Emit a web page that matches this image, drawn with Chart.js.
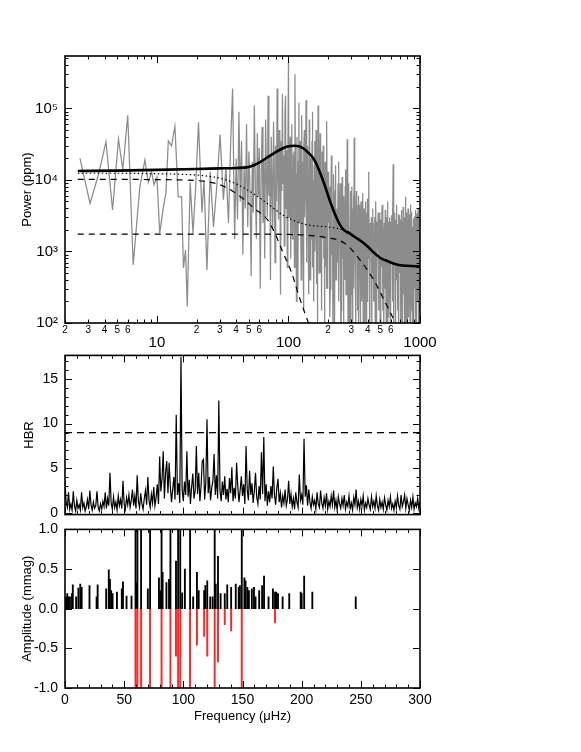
<!DOCTYPE html>
<html>
<head>
<meta charset="utf-8">
<script src="https://cdn.jsdelivr.net/npm/chart.js@4.4.0/dist/chart.umd.min.js"></script>
<style>
  html, body { margin: 0; padding: 0; background: #fff; }
  body { width: 581px; height: 752px; position: relative; overflow: hidden; }
  canvas { position: absolute; left: 0; }
  #powerChart { top: 0; }
  #hbrChart { top: 340px; }
  #ampChart { top: 514px; }
</style>
</head>
<body>
<canvas id="powerChart" width="581" height="360"></canvas>
<canvas id="hbrChart" width="581" height="190"></canvas>
<canvas id="ampChart" width="581" height="238"></canvas>
<script>
// ---------- Panel 1: power spectrum (log-log) ----------
const specFreq = [
  2.6, 3.1, 3.6, 4.1, 4.6, 5.1, 5.5, 6.0, 6.6, 7.4, 8.1, 8.6, 9.1, 9.5, 10.0, 10.5, 11.2, 11.7, 12.2, 12.9,
  13.7, 14.5, 15.4, 15.9, 16.5, 17.0, 17.9, 18.8, 19.7, 20.7, 22.0, 22.8, 24.0, 25.4, 26.9, 28.5, 30.2, 32.0, 33.5, 35.0,
  36.3, 37.6, 39.0,
  40, 41, 42, 43, 44, 45, 46, 47, 48, 49, 50, 51, 52, 53, 54, 55, 56, 57, 58, 59,
  60, 61, 62, 63, 64, 65, 66, 67, 68, 69, 70, 71, 72, 73, 74, 75, 76, 77, 78, 79,
  80, 81, 82, 83, 84, 85, 86, 87, 88, 89, 90, 91, 92, 93, 94, 95, 96, 97, 98, 99,
  100, 101, 102, 103, 104, 105, 106, 107, 108, 109, 110, 111, 112, 113, 114, 115, 116, 117, 118, 119,
  120, 121, 122, 123, 124, 125, 126, 127, 128, 129, 130, 131, 132, 133, 134, 135, 136, 137, 138, 139,
  140, 141, 142, 143, 144, 145, 146, 147, 148, 149, 150, 151, 152, 153, 154, 155, 156, 157, 158, 159,
  160, 161, 162, 163, 164, 165, 166, 167, 168, 169, 170, 171, 172, 173, 174, 175, 176, 177, 178, 179,
  180, 181, 182, 183, 184, 185, 186, 187, 188, 189, 190, 191, 192, 193, 194, 195, 196, 197, 198, 199, 200,
  202, 204, 206, 208, 210, 212, 214, 216, 218, 220, 222, 224, 226, 228, 230, 232, 234, 236, 238, 240,
  242, 244, 246, 248, 250, 252, 254, 256, 258, 260, 262, 264, 266, 268, 270, 272, 274, 276, 278, 280,
  282, 284, 286, 288, 290, 292, 294, 296, 298, 300, 302, 304, 306, 308, 310, 312, 314, 316, 318, 320,
  322, 324, 326, 328, 330, 332, 334, 336, 338, 340, 342, 344, 346, 348, 350, 352, 354, 356, 358, 360,
  362, 364, 366, 368, 370, 372, 374, 376, 378, 380, 382, 384, 386, 388, 390, 392, 394, 396, 398, 400,
  403, 406, 409, 412, 415, 418, 421, 424, 427, 430, 433, 436, 439, 442, 445, 448, 451, 454, 457, 460,
  463, 466, 469, 472, 475, 478, 481, 484, 487, 490, 493, 496, 499, 502, 505, 508, 511, 514, 517, 520,
  523, 526, 529, 532, 535, 538, 541, 544, 547, 550, 553, 556, 559, 562, 565, 568, 571, 574, 577, 580,
  583, 586, 589, 592, 595, 598, 601, 604, 607, 610, 613, 616, 619, 622, 625, 628, 631, 634, 637, 640,
  643, 646, 649, 652, 655, 658, 661, 664, 667, 670, 673, 676, 679, 682, 685, 688, 691, 694, 697, 700,
  703, 706, 709, 712, 715, 718, 721, 724, 727, 730, 733, 736, 739, 742, 745, 748, 751, 754, 757, 760,
  763, 766, 769, 772, 775, 778, 781, 784, 787, 790, 793, 796, 799, 802, 805, 808, 811, 814, 817, 820,
  823, 826, 829, 832, 835, 838, 841, 844, 847, 850, 853, 856, 859, 862, 865, 868, 871, 874, 877, 880,
  883, 886, 889, 892, 895, 898, 901, 904, 907, 910, 913, 916, 919, 922, 925, 928, 931, 934, 937, 940,
  943, 946, 949, 952, 955, 958, 961, 964, 967, 970, 973, 976, 979, 982, 985, 988, 991, 994, 997, 1000
];
const specPower = [
  20000, 4700, 12000, 34000, 3800, 37000, 14000, 80000, 650, 7800, 19000, 9200, 13000, 8600, 11000, 1800, 4200, 6500, 35000, 30000,
  56000, 5800, 5800, 590, 1050, 170, 9200, 1800, 8000, 64000, 3500, 10000, 550, 13000, 2200, 8000, 43000, 5300, 15000, 2500,
  30000, 190000, 1500,
  20000, 2800, 90000, 5000, 35000, 900, 16000, 4000, 60000, 2200, 25000, 7000, 450, 18000, 3500, 110000, 8000, 1500, 45000, 6000,
  28000, 300, 12000, 55000, 2500, 19000, 800, 70000, 10000, 3000, 150000, 6000, 22000, 400, 40000, 9000, 2000, 65000, 14000, 700,
  30000, 5000, 190000, 11000, 2800, 50000, 18000, 250, 35000, 7000, 160000, 9000, 22000, 1200, 80000, 150000, 4000, 26000, 600, 20000,
  450000, 3000, 15000, 40000, 800, 9000, 60000, 1500, 3500, 22000, 25000, 600, 300000, 12000, 6000, 200, 40000, 8000, 300, 18000,
  120000, 2500, 10000, 35000, 2000, 400, 80000, 5000, 18000, 900, 150, 25000, 50000, 3000, 6000, 15000, 130000, 700, 1200, 9000,
  30000, 2000, 9000, 250, 70000, 12000, 400, 4000, 20000, 1500, 4500, 35000, 90000, 600, 10000, 3000, 200, 16000, 35000, 1000,
  2500, 8000, 50000, 350, 7000, 20000, 90, 4000, 110000, 1800, 28000, 500, 3000, 14000, 45000, 1200, 500, 6000, 12000, 150,
  25000, 3500, 1500, 9000, 30000, 800, 5000, 12000, 70, 2500, 18000, 600, 2000, 7000, 22000, 300, 66000, 4000, 300, 8000, 13000,
  2500, 8000, 120, 300, 5000, 22000, 900, 2000, 60, 12000, 3000, 80, 7000, 16000, 400, 4000, 1500, 700, 9000, 18000,
  200, 2500, 6000, 9000, 50, 150, 3500, 11000, 800, 3000, 100, 6000, 2000, 400, 8000, 14000, 250, 1500, 5000, 37000,
  600, 60, 3000, 9000, 1200, 2000, 40, 5000, 7000, 250, 1800, 8000, 90, 1000, 4000, 6000, 300, 39000, 2500, 1800,
  500, 80, 3000, 7000, 900, 2500, 150, 500, 4500, 6000, 60, 1200, 3000, 4500, 700, 90, 2000, 5000, 1400, 2000,
  200, 350, 3500, 6500, 100, 1400, 2500, 4000, 500, 70, 3000, 5000, 1100, 900, 50, 3500, 1800, 200, 2500, 5500,
  800, 2200, 13000, 300, 60, 2500, 1200, 900, 3000, 60, 1500, 4000, 500, 1200, 200, 2500, 3000, 700, 90, 5000,
  1800, 400, 80, 2600, 1100, 1800, 3500, 150, 600, 3500, 1000, 2000, 40, 700, 2800, 1300, 600, 3600, 4500, 150,
  900, 1500, 2200, 70, 2500, 1000, 300, 3800, 1400, 800, 100, 2200, 3000, 600, 5000, 1200, 40, 1800, 2600, 120,
  1600, 3000, 900, 300, 2000, 50, 2600, 1400, 700, 3200, 1100, 200, 4000, 2000, 16600, 800, 60, 1900, 2800, 700,
  3500, 1000, 70, 1300, 2400, 2800, 400, 1500, 4500, 900, 150, 2000, 2400, 600, 3300, 60, 1100, 1500, 3200, 800,
  500, 2800, 80, 1500, 2000, 1100, 350, 3800, 900, 100, 2600, 1200, 1700, 400, 4200, 250, 1100, 1700, 3000, 500,
  2000, 80, 3000, 1300, 5800, 700, 80, 1400, 2200, 450, 3500, 1000, 40, 2000, 1600, 1000, 4000, 300, 1600, 2800,
  120, 900, 3300, 1700, 600, 2100, 70, 1300, 4500, 400, 1800, 900, 2500, 150, 1100, 3600, 500, 2000, 80, 1400,
  2200, 1300, 600, 2900, 1000, 50, 1700, 3100, 700, 1200, 300, 2400, 1500, 3800, 90, 1000, 2000, 600, 2700, 1200,
  80, 1600, 3400, 800, 1900, 200, 2300, 1100, 4000, 400, 1300, 2500, 60, 900, 3000, 1500, 700, 2200, 150, 1800
];
// full fit (thick), background (dotted), two granulation components (dashed)
const fitFreq = [2.5, 5, 10, 20, 30, 40, 50, 60, 70, 80, 90, 100, 110, 120, 130, 140, 156, 170, 186, 209, 242, 263, 290, 316, 360, 398, 450, 500, 580, 676, 800, 1000];
const fitPower = [13300, 13500, 13800, 14200, 14500, 14700, 15200, 17500, 21000, 24500, 27500, 29500, 30000, 29500, 27500, 24500, 19500, 14000, 9100, 4800, 2500, 2000, 1800, 1620, 1380, 1180, 950, 810, 720, 650, 630, 620];
const bgFreq = [2.5, 5, 10, 15, 20, 25, 30, 38, 45, 55, 69, 80, 91, 105, 123, 150, 200, 250, 290];
const bgPower = [12400, 12400, 12200, 12000, 11700, 11200, 10600, 9200, 7900, 6300, 4700, 3800, 3200, 2800, 2500, 2300, 2200, 2050, 1850];
const gran1Freq = [2.5, 5, 10, 15, 20, 25, 30, 38, 45, 55, 69, 80, 91, 105, 123, 142, 160];
const gran1Power = [10200, 10200, 10100, 10000, 9800, 9300, 8600, 6900, 5500, 4000, 2800, 1700, 960, 520, 210, 100, 60];
const gran2Freq = [2.5, 10, 50, 100, 130, 160, 200, 250, 290, 335, 390, 445, 520, 620, 700];
const gran2Power = [1750, 1750, 1750, 1730, 1700, 1650, 1550, 1400, 1150, 840, 580, 400, 230, 120, 75];

const powXLabelTicks = [2, 3, 4, 5, 6, 10, 20, 30, 40, 50, 60, 100, 200, 300, 400, 500, 600, 1000];
const powXMajor = [10, 100, 1000];
const powXMinor = [2, 3, 4, 5, 6, 7, 8, 9, 20, 30, 40, 50, 60, 70, 80, 90, 200, 300, 400, 500, 600, 700, 800, 900];
const powYMajor = [100, 1000, 10000, 100000];
const powYLabels = ['10²', '10³', '10⁴', '10⁵'];
const powYMinor = [200, 300, 400, 500, 600, 700, 800, 900, 2000, 3000, 4000, 5000, 6000, 7000, 8000, 9000,
  20000, 30000, 40000, 50000, 60000, 70000, 80000, 90000, 200000, 300000, 400000, 500000];

// ---------- Panel 2: HBR ----------
const hbrFreq = [
  0, 1, 2, 3, 4, 5, 6, 7, 8, 9, 10, 11, 12, 13, 14, 15, 16, 17, 18, 19,
  20, 21, 22, 23, 24, 25, 26, 27, 28, 29, 30, 31, 32, 33, 34, 35, 36, 37, 38, 39,
  40, 41, 42, 43, 44, 45, 46, 47, 48, 49, 50, 51, 52, 53, 54, 55, 56, 57, 58, 59,
  60, 61, 62, 63, 64, 65, 66, 67, 68, 69, 70, 71, 72, 73, 74, 75, 76, 77, 78, 79,
  80, 81, 82, 83, 84, 85, 86, 87, 88, 89, 90, 91, 92, 93, 94, 95, 96, 97, 98, 99,
  100, 101, 102, 103, 104, 105, 106, 107, 108, 109, 110, 111, 112, 113, 114, 115, 116, 117, 118, 119,
  120, 121, 122, 123, 124, 125, 126, 127, 128, 129, 130, 131, 132, 133, 134, 135, 136, 137, 138, 139,
  140, 141, 142, 143, 144, 145, 146, 147, 148, 149, 150, 151, 152, 153, 154, 155, 156, 157, 158, 159,
  160, 161, 162, 163, 164, 165, 166, 167, 168, 169, 170, 171, 172, 173, 174, 175, 176, 177, 178, 179,
  180, 181, 182, 183, 184, 185, 186, 187, 188, 189, 190, 191, 192, 193, 194, 195, 196, 197, 198, 199,
  200, 201, 202, 203, 204, 205, 206, 207, 208, 209, 210, 211, 212, 213, 214, 215, 216, 217, 218, 219,
  220, 221, 222, 223, 224, 225, 226, 227, 228, 229, 230, 231, 232, 233, 234, 235, 236, 237, 238, 239,
  240, 241, 242, 243, 244, 245, 246, 247, 248, 249, 250, 251, 252, 253, 254, 255, 256, 257, 258, 259,
  260, 261, 262, 263, 264, 265, 266, 267, 268, 269, 270, 271, 272, 273, 274, 275, 276, 277, 278, 279,
  280, 281, 282, 283, 284, 285, 286, 287, 288, 289, 290, 291, 292, 293, 294, 295, 296, 297, 298, 299,
  300
];
const hbrValue = [
  3.5, 1.2, 0.6, 2.3, 0.4, 1.0, 0.3, 2.4, 0.8, 0.2, 1.4, 0.5, 0.9, 0.3, 2.3, 0.6, 1.1, 0.2, 0.7, 1.5,
  0.4, 2.5, 0.9, 0.3, 1.2, 0.5, 0.8, 2.4, 0.6, 0.2, 1.0, 0.4, 1.3, 0.7, 2.3, 0.5, 1.6, 0.8, 4.5, 1.1,
  0.4, 1.8, 0.6, 1.2, 0.3, 1.9, 0.8, 1.5, 0.5, 3.6, 1.0, 0.4, 1.7, 0.9, 2.0, 0.6, 1.4, 2.6, 0.8, 1.9,
  0.5, 4.2, 1.3, 0.6, 2.2, 1.0, 0.4, 1.6, 2.5, 0.9, 4.0, 1.4, 0.6, 2.1, 1.1, 2.9, 0.8, 1.7, 3.2, 1.0,
  6.3, 2.4, 3.8, 6.9, 1.6, 4.5, 5.8, 2.2, 5.6, 3.0, 1.2, 2.6, 4.0, 1.5, 11.0, 2.0, 3.3, 1.1, 17.5, 2.6,
  1.3, 3.5, 2.0, 6.9, 1.8, 3.7, 1.0, 2.9, 4.4, 1.6, 2.5, 7.5, 2.1, 4.5, 1.3, 3.0, 5.8, 6.0, 1.5, 3.4,
  10.5, 2.2, 4.0, 1.4, 2.8, 3.6, 6.6, 2.0, 4.2, 1.6, 12.6, 2.5, 1.3, 3.5, 2.0, 4.1, 1.5, 2.7, 1.2, 3.9,
  2.2, 5.1, 1.3, 2.8, 1.6, 5.6, 3.0, 1.2, 2.5, 4.1, 1.9, 3.2, 1.0, 7.5, 2.6, 1.4, 4.7, 2.0, 3.3, 1.1,
  2.4, 4.5, 1.8, 1.0, 3.0, 1.5, 6.8, 2.1, 8.5, 1.3, 3.2, 0.8, 2.4, 1.2, 3.0, 1.6, 5.2, 2.0, 0.9, 2.8,
  3.8, 1.2, 2.2, 0.6, 1.9, 1.1, 2.6, 0.8, 1.5, 3.6, 1.0, 2.1, 0.7, 1.6, 0.4, 2.3, 1.2, 0.6, 4.3, 1.4,
  2.0, 0.9, 8.3, 1.8, 3.1, 0.8, 2.6, 1.2, 0.5, 1.8, 0.9, 1.4, 0.4, 2.3, 1.0, 0.6, 2.5, 1.1, 0.5, 1.7,
  0.8, 2.2, 0.4, 1.3, 0.7, 1.9, 0.9, 2.5, 0.6, 1.4, 0.3, 1.8, 1.0, 0.5, 1.6, 0.8, 2.0, 0.4, 1.2, 0.7,
  1.9, 0.5, 1.1, 0.3, 1.7, 0.9, 2.6, 0.6, 1.3, 0.4, 1.5, 0.8, 1.9, 0.3, 1.1, 0.6, 1.6, 0.9, 0.4, 1.8,
  0.7, 1.3, 0.5, 1.9, 0.8, 0.3, 1.5, 0.6, 1.2, 0.4, 1.7, 0.9, 0.3, 1.4, 0.7, 1.8, 0.5, 1.0, 0.3, 1.3,
  0.6, 1.9, 0.8, 0.4, 2.0, 0.7, 1.2, 2.0, 0.5, 1.6, 0.9, 0.3, 1.4, 0.6, 1.8, 0.4, 1.1, 0.7, 1.6, 0.5,
  1.2
];
const hbrThreshold = 9;
const hbrYMajor = [0, 5, 10, 15];
const hbrYMinor = [1, 2, 3, 4, 6, 7, 8, 9, 11, 12, 13, 14, 16, 17];

// ---------- Panel 3: amplitude spectrum (black) and fitted modes (red) ----------
const ampFreq = [
  0.9, 1.9, 3.0, 4.2, 5.9, 6.6, 9.4, 11.3, 12.9, 14.1,
  20.7, 26.7, 27.6, 34.8, 37.0, 38.0, 39.0, 40.2, 43.9, 48.0,
  49.0, 52.0, 56.2, 59.6, 60.4, 61.2, 64.3, 70.0, 71.9, 79.4,
  80.6, 81.6, 82.5, 85.7, 87.9, 89.1, 93.8, 95.6, 97.4, 99.0,
  101.3, 105.7, 108.3, 111.5, 113.0, 117.6, 118.6, 120.2, 122.7, 124.8,
  126.5, 127.4, 129.3, 131.5, 135.0, 137.1, 140.4, 144.3, 146.8, 147.8,
  149.4, 151.6, 152.6, 154.1, 155.4, 157.9, 159.7, 161.0, 164.1, 166.6,
  168.2, 172.0, 175.7, 177.5, 178.5, 180.0, 183.9, 189.5, 199.2, 200.0,
  202.1, 209.0, 245.7
];
const ampValue = [
  0.15, 0.19, 0.15, 0.15, 0.19, 0.30, 0.15, 0.26, 0.31, 0.27,
  0.29, 0.15, 0.30, 0.25, 0.49, 0.37, 0.23, 0.19, 0.21, 0.25,
  0.34, 0.16, 0.16, 1.0, 0.33, 1.0, 1.0, 0.25, 1.0, 0.39,
  0.23, 1.0, 0.46, 0.33, 0.37, 1.0, 0.60, 1.0, 1.0, 0.20,
  0.50, 1.0, 0.15, 0.46, 0.23, 0.23, 0.29, 0.35, 0.15, 0.15,
  1.0, 0.31, 0.66, 0.19, 0.19, 0.30, 0.27, 0.31, 0.27, 0.29,
  1.0, 0.39, 0.35, 0.27, 0.23, 0.25, 0.27, 0.15, 0.23, 0.29,
  0.41, 0.15, 0.25, 0.21, 0.21, 0.19, 0.15, 0.19, 0.21, 0.19,
  0.41, 0.21, 0.15
];
const modeFreq = [59.6, 61.2, 64.3, 71.9, 81.6, 89.1, 93.8, 95.6, 97.4, 105.7, 111.5, 117.6, 120.2, 126.5, 129.3, 135.0, 140.4, 149.4, 177.5];
const modeAmp = [-1, -1, -1, -1, -1, -1, -0.6, -1, -1, -1, -0.46, -0.35, -0.6, -1, -0.67, -0.2, -0.28, -1, -0.18];
const ampYMajor = [-1, -0.5, 0, 0.5, 1];

// shared linear frequency axis (panels 2 and 3)
const freqMin = 0, freqMax = 300;
const freqMajor = [0, 50, 100, 150, 200, 250, 300];
const freqMinor = [10, 20, 30, 40, 60, 70, 80, 90, 110, 120, 130, 140, 160, 170, 180, 190, 210, 220, 230, 240, 260, 270, 280, 290];

Chart.defaults.font.family = '"Liberation Sans", Arial, Helvetica, sans-serif';
Chart.defaults.color = '#000';

function xy(xs, ys) {
  return xs.map((x, i) => ({ x: x, y: ys[i] }));
}

// IDL style box: frame on all four sides and inward tick marks
function frameTicks(spec) {
  return {
    id: 'frameTicks',
    afterDraw(chart) {
      const ctx = chart.ctx, a = chart.chartArea;
      const sx = chart.scales.x, sy = chart.scales.y;
      ctx.save();
      ctx.strokeStyle = '#000';
      ctx.lineWidth = 1;
      ctx.beginPath();
      const mark = (scale, vals, len) => {
        vals.forEach(v => {
          const p = Math.round(scale.getPixelForValue(v)) + 0.5;
          if (scale.isHorizontal()) {
            ctx.moveTo(p, a.bottom); ctx.lineTo(p, a.bottom - len);
            ctx.moveTo(p, a.top); ctx.lineTo(p, a.top + len);
          } else {
            ctx.moveTo(a.left, p); ctx.lineTo(a.left + len, p);
            ctx.moveTo(a.right, p); ctx.lineTo(a.right - len, p);
          }
        });
      };
      mark(sx, spec.xMajor, 7); mark(sx, spec.xMinor, 3.5);
      mark(sy, spec.yMajor, 7); mark(sy, spec.yMinor, 3.5);
      ctx.stroke();
      ctx.lineWidth = 1.6;
      ctx.strokeRect(a.left, a.top, a.right - a.left, a.bottom - a.top);
      ctx.restore();
    }
  };
}

const noGrid = { display: false, drawTicks: false };

// minor log labels show only the leading digit (2 3 4 5 6)
function logTickLabel(v) {
  if (powXMajor.includes(v)) return ['', String(v)];
  return String(Math.round(v / Math.pow(10, Math.floor(Math.log10(v) + 1e-9))));
}

// Panel 1
new Chart(document.getElementById('powerChart'), {
  type: 'line',
  data: {
    datasets: [
      { data: xy(specFreq, specPower), borderColor: '#8c8c8c', borderWidth: 1.25, pointRadius: 0, order: 2 },
      { data: xy(gran1Freq, gran1Power), borderColor: '#000', borderWidth: 1.2, borderDash: [6, 5], pointRadius: 0, cubicInterpolationMode: 'monotone', order: 1 },
      { data: xy(gran2Freq, gran2Power), borderColor: '#000', borderWidth: 1.2, borderDash: [6, 5], pointRadius: 0, cubicInterpolationMode: 'monotone', order: 1 },
      { data: xy(bgFreq, bgPower), borderColor: '#000', borderWidth: 1.2, borderDash: [1.5, 2.5], pointRadius: 0, cubicInterpolationMode: 'monotone', order: 1 },
      { data: xy(fitFreq, fitPower), borderColor: '#000', borderWidth: 2.6, pointRadius: 0, cubicInterpolationMode: 'monotone', order: 0 }
    ]
  },
  options: {
    responsive: false,
    animation: false,
    events: [],
    layout: { padding: { top: 56, right: 161, left: 0, bottom: 0 } },
    plugins: { legend: { display: false }, tooltip: { enabled: false } },
    scales: {
      x: {
        type: 'logarithmic', min: 2, max: 1000, bounds: 'data',
        grid: noGrid, border: { display: false },
        afterFit: s => { s.height = 37; },
        afterBuildTicks: s => { s.ticks = powXLabelTicks.map(v => ({ value: v })); },
        ticks: {
          autoSkip: false, maxRotation: 0, padding: 1,
          callback: v => logTickLabel(v),
          font: c => powXMajor.includes(c.tick && c.tick.value) ? { size: 15, lineHeight: 0.86 } : { size: 10 }
        }
      },
      y: {
        type: 'logarithmic', min: 100, max: 540000, bounds: 'data',
        grid: noGrid, border: { display: false },
        afterFit: s => { s.width = 65; },
        afterBuildTicks: s => { s.ticks = powYMajor.map(v => ({ value: v })); },
        ticks: { autoSkip: false, padding: 7, font: { size: 15 }, callback: v => powYLabels[powYMajor.indexOf(v)] },
        title: { display: true, text: 'Power (ppm)', font: { size: 13 }, padding: { top: 20, bottom: 0 } }
      }
    }
  },
  plugins: [frameTicks({ xMajor: powXMajor, xMinor: powXMinor, yMajor: powYMajor, yMinor: powYMinor })]
});

// Panel 2
new Chart(document.getElementById('hbrChart'), {
  type: 'line',
  data: {
    datasets: [
      { data: xy(hbrFreq, hbrValue), borderColor: '#000', borderWidth: 1.2, pointRadius: 0 },
      { data: [{ x: freqMin, y: hbrThreshold }, { x: freqMax, y: hbrThreshold }], borderColor: '#000', borderWidth: 1.2, borderDash: [7, 5], pointRadius: 0 }
    ]
  },
  options: {
    responsive: false,
    animation: false,
    events: [],
    layout: { padding: { top: 12, right: 161, left: 0, bottom: 0 } },
    plugins: { legend: { display: false }, tooltip: { enabled: false } },
    scales: {
      x: {
        type: 'linear', min: freqMin, max: freqMax,
        grid: noGrid, border: { display: false },
        ticks: { display: false },
        afterFit: s => { s.height = 15; }
      },
      y: {
        type: 'linear', min: -0.2, max: 17.65,
        grid: noGrid, border: { display: false },
        afterFit: s => { s.width = 65; },
        afterBuildTicks: s => { s.ticks = hbrYMajor.map(v => ({ value: v })); },
        ticks: { autoSkip: false, padding: 7, font: { size: 14 } },
        title: { display: true, text: 'HBR', font: { size: 13 }, padding: { top: 22, bottom: 0 } }
      }
    }
  },
  plugins: [frameTicks({ xMajor: freqMajor, xMinor: freqMinor, yMajor: hbrYMajor, yMinor: hbrYMinor })]
});

// Panel 3
new Chart(document.getElementById('ampChart'), {
  type: 'bar',
  data: {
    datasets: [
      { data: xy(ampFreq, ampValue), backgroundColor: '#000', barThickness: 1.2, grouped: false },
      { data: xy(modeFreq, modeAmp), backgroundColor: 'rgba(255,0,0,0.85)', barThickness: 1.3, grouped: false }
    ]
  },
  options: {
    responsive: false,
    animation: false,
    events: [],
    layout: { padding: { top: 10, right: 161, left: 0, bottom: 0 } },
    plugins: { legend: { display: false }, tooltip: { enabled: false } },
    scales: {
      x: {
        type: 'linear', min: freqMin, max: freqMax, offset: false,
        grid: noGrid, border: { display: false },
        afterFit: s => { s.height = 64; },
        afterBuildTicks: s => { s.ticks = freqMajor.map(v => ({ value: v })); },
        ticks: { autoSkip: false, maxRotation: 0, padding: 4, font: { size: 14 } },
        title: { display: true, text: 'Frequency (\u03BCHz)', font: { size: 13 }, padding: { top: 0, bottom: 28 } }
      },
      y: {
        type: 'linear', min: -1, max: 1,
        grid: noGrid, border: { display: false },
        afterFit: s => { s.width = 65; },
        afterBuildTicks: s => { s.ticks = ampYMajor.map(v => ({ value: v })); },
        ticks: { autoSkip: false, padding: 7, font: { size: 14 }, callback: v => v.toFixed(1) },
        title: { display: true, text: 'Amplitude (mmag)', font: { size: 13 }, padding: { top: 20, bottom: 0 } }
      }
    }
  },
  plugins: [frameTicks({ xMajor: freqMajor, xMinor: freqMinor, yMajor: ampYMajor, yMinor: [] })]
});
</script>
</body>
</html>
